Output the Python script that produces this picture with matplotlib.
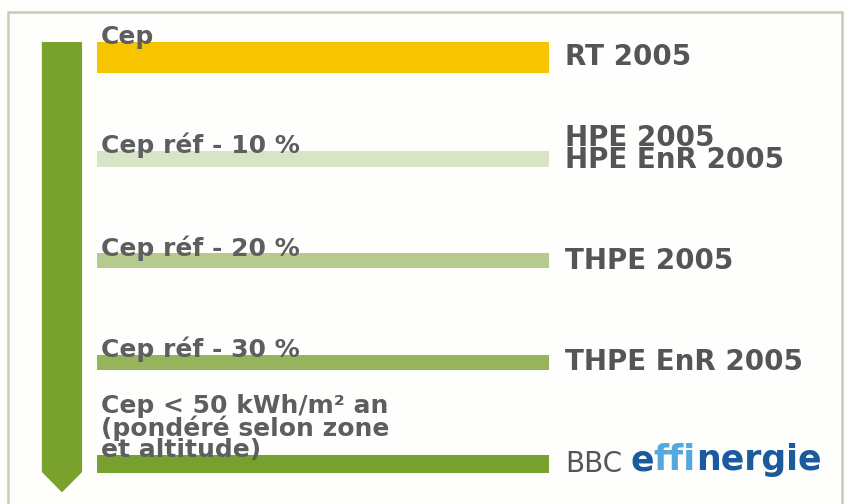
import matplotlib
matplotlib.use('Agg')
import matplotlib.pyplot as plt
from matplotlib.patches import Polygon, Rectangle

# labels of each level (right) and its threshold (left)
levels = ['RT 2005', 'HPE 2005\nHPE EnR 2005', 'THPE 2005', 'THPE EnR 2005', 'BBC']
thresholds = ['Cep', 'Cep réf - 10 %', 'Cep réf - 20 %', 'Cep réf - 30 %',
              'Cep < 50 kWh/m² an\n(pondéré selon zone\net altitude)']
bar_length = [100, 100, 100, 100, 100]

colors = ['#f6c500', '#d9e4c6', '#b5ca8e', '#95b45c', '#76a12e']
thickness = [0.30, 0.16, 0.14, 0.15, 0.17]
text_grey = '#555555'

fig = plt.figure(figsize=(8.47, 5.04), dpi=100)
fig.patch.set_facecolor('#fefefc')
ax = fig.add_axes([0, 0, 1, 1])
ax.set_facecolor('#fefefc')

# pixel-ish scaling: 100 units of bar = 452 px, 1 row = 101.65 px
px_x = 4.52
px_y = 101.65
ax.set_xlim(-97 / px_x, (847 - 97) / px_x)
ax.set_ylim((504 - 57.3) / px_y, -57.3 / px_y)
ax.axis('off')

ypos = list(range(len(levels)))
ax.barh(ypos, bar_length, height=thickness, color=colors, left=0, zorder=2)

# frame of the slide
fig.patches.append(Rectangle((8 / 847, -0.1), 834 / 847, 1.1 - 12 / 504,
                             transform=fig.transFigure, fill=False,
                             edgecolor='#c8ccb6', linewidth=1.8))

# big arrow on the left
top = ypos[0] - thickness[0] / 2
bot = ypos[-1] + 0.08
tip = ypos[-1] + 0.28
x0, x1 = -12.2, -3.3
arrow = Polygon([(x0, top), (x1, top), (x1, bot), ((x0 + x1) / 2, tip), (x0, bot)],
                closed=True, facecolor='#78a22c', edgecolor='none', zorder=2)
ax.add_patch(arrow)

for i, (lab, th) in enumerate(zip(levels, thresholds)):
    bar_top = ypos[i] - thickness[i] / 2
    ax.text(0.8, bar_top + 0.07, th, ha='left', va='bottom', fontsize=18,
            fontweight='bold', color='#5e5e5e', linespacing=0.88, zorder=3)
    if lab == 'BBC':
        t = ax.text(103.5, ypos[i], lab, ha='left', va='center', fontsize=20,
                    color=text_grey, zorder=3)
        prev = t
        for part, col in [('e', '#1b5a9c'), ('ffi', '#55a8dd'), ('nergie', '#1b5a9c')]:
            off = 6 if part == 'e' else 0
            prev = ax.annotate(part, xy=(1, 0.03 if part == 'e' else 0), xycoords=prev,
                               xytext=(off, 0), textcoords='offset points',
                               ha='left', va='bottom', fontsize=25,
                               fontweight='bold', color=col, zorder=3)
    else:
        ax.text(103.5, ypos[i] - (0.1 if '\n' in lab else 0), lab, ha='left',
                va='center', fontsize=20, fontweight='bold', color=text_grey,
                linespacing=0.72, zorder=3)

fig.savefig('out.png', dpi=100, facecolor=fig.get_facecolor())
